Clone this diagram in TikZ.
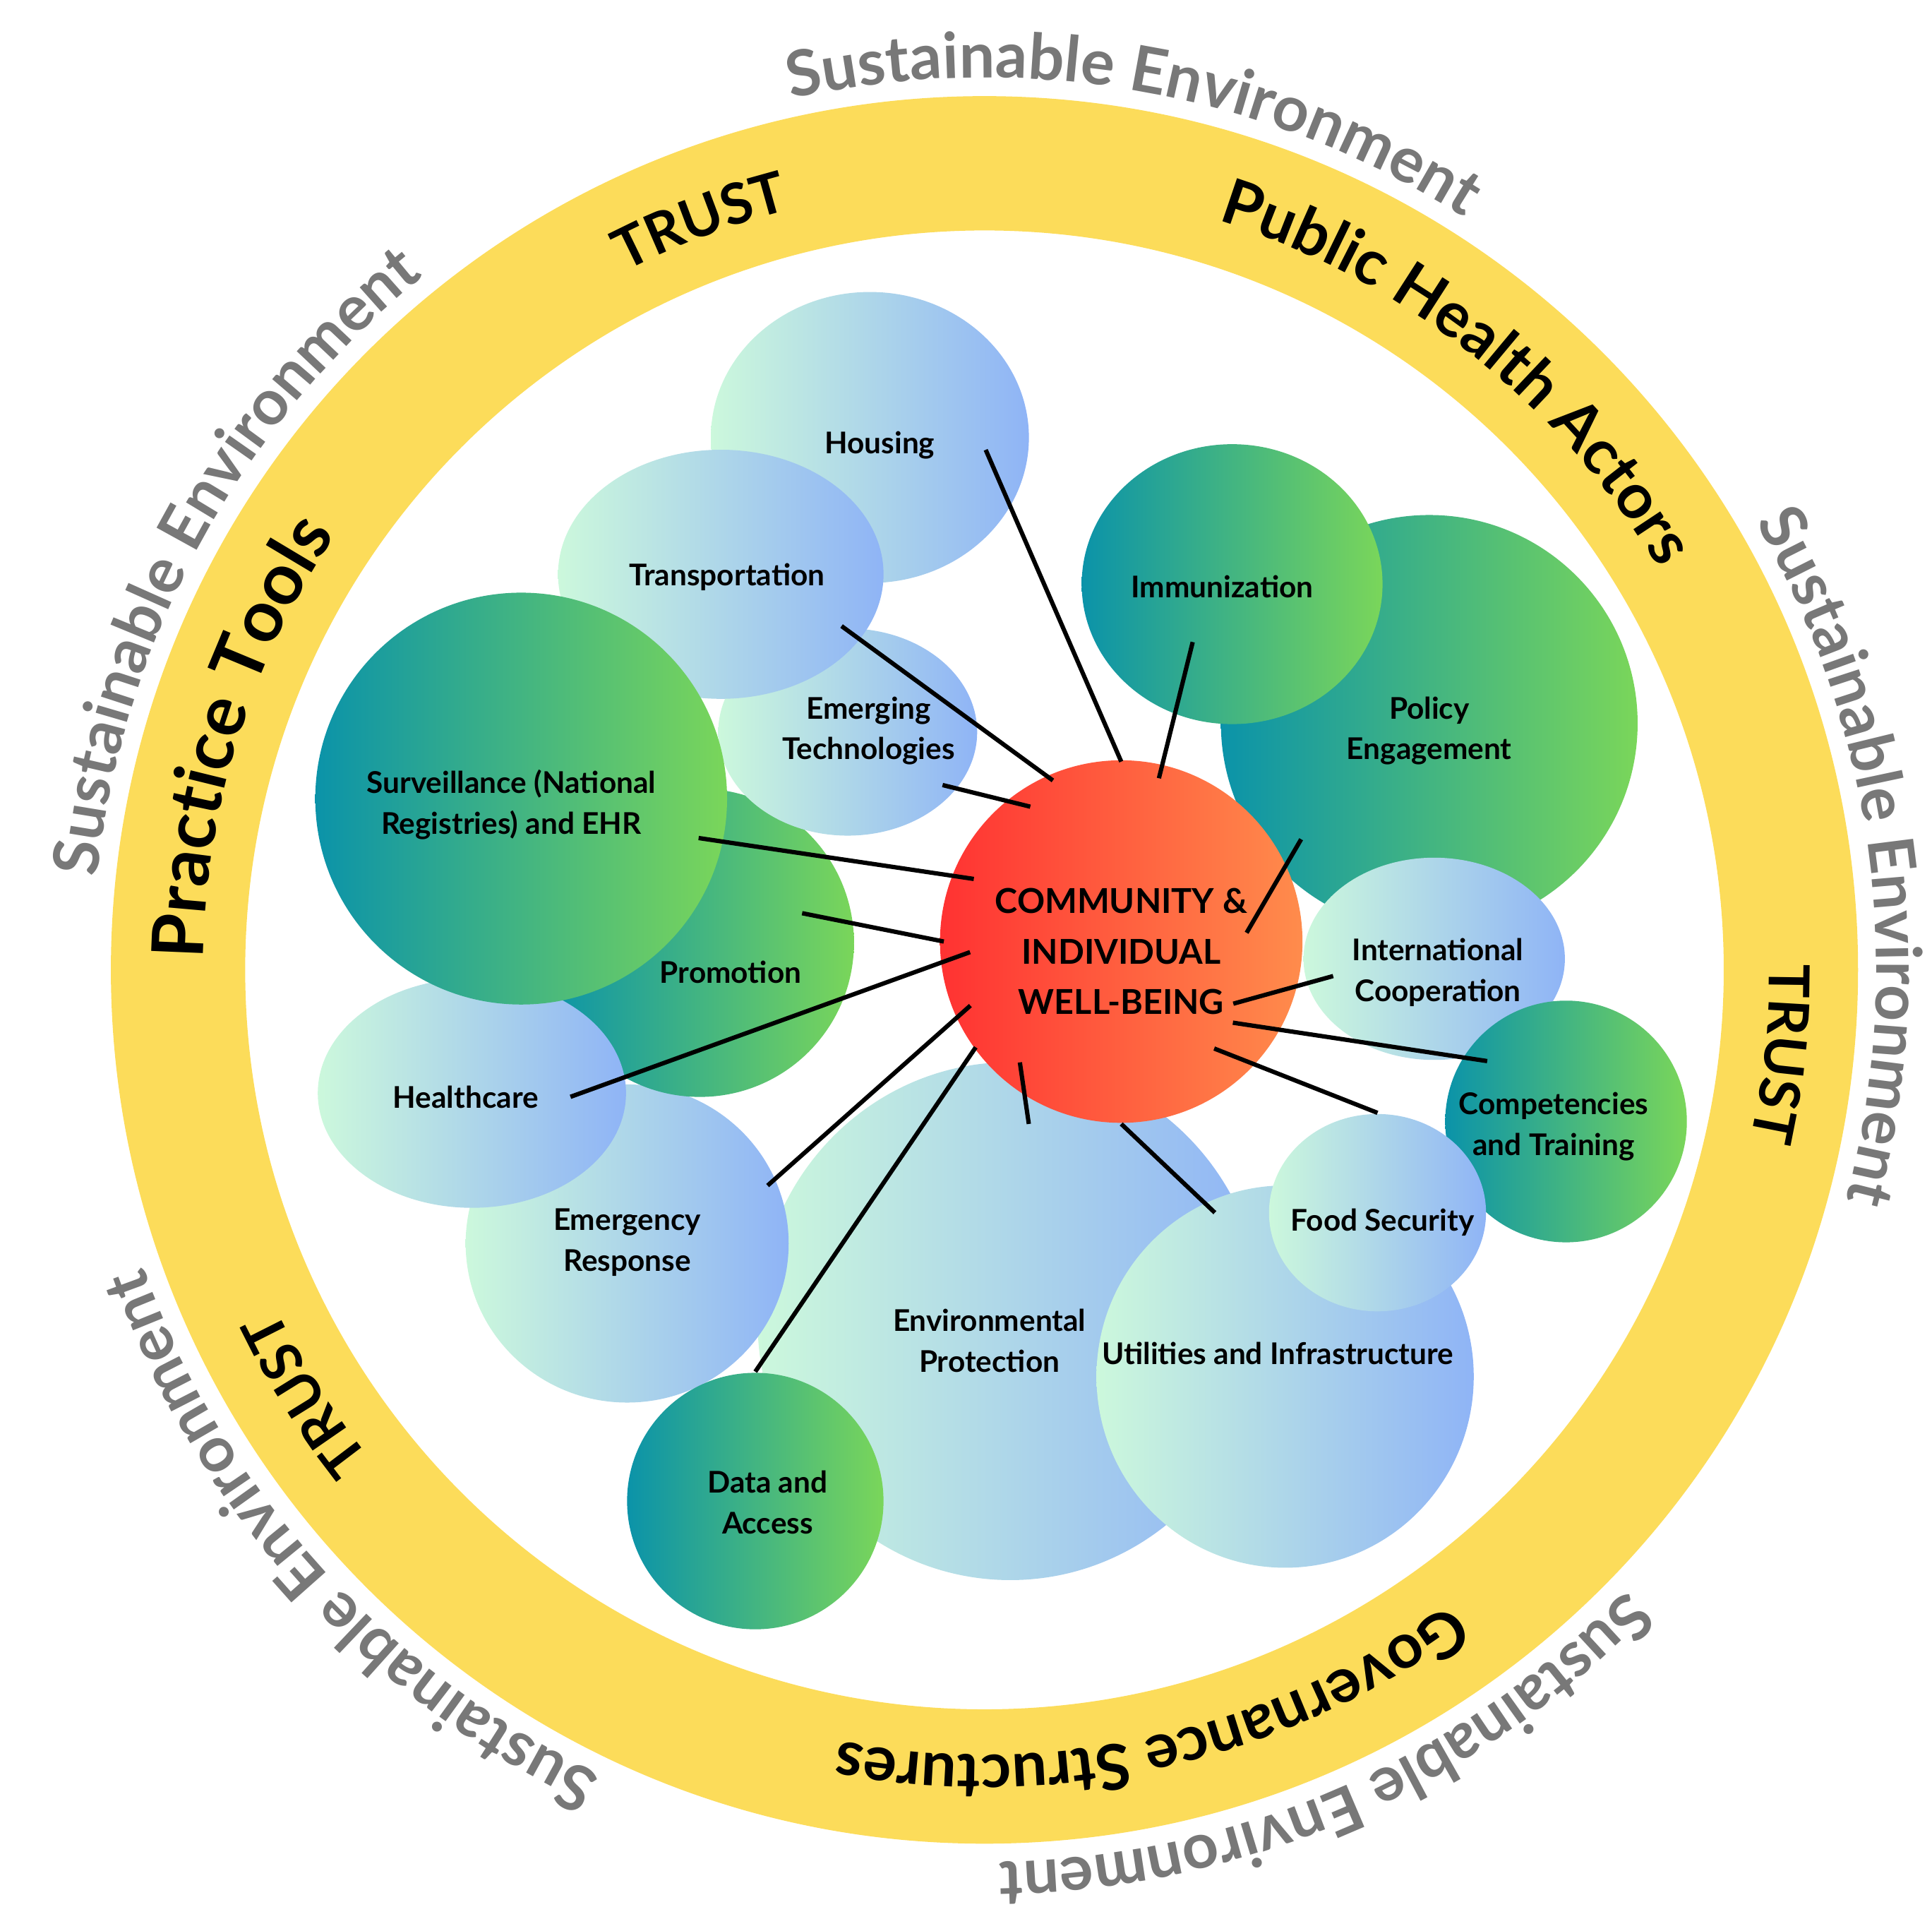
\documentclass[tikz,border=0pt]{standalone}
\usepackage{fontspec}
\setmainfont{Lato}
\usetikzlibrary{shapes.geometric,decorations.text,calc}

\definecolor{ringyellow}{HTML}{FCDC5A}
\definecolor{envgray}{HTML}{787878}
\definecolor{mint}{HTML}{CCF8DC}
\definecolor{skyblue}{HTML}{8FB4F6}
\definecolor{deepteal}{HTML}{0B93A9}
\definecolor{leafgreen}{HTML}{7AD65A}
\definecolor{wellred}{HTML}{FF3232}
\definecolor{wellorange}{HTML}{FF8C4C}

\tikzset{
  lightbub/.style={ellipse, inner sep=0pt, outer sep=0pt, left color=mint, right color=skyblue},
  darkbub/.style={ellipse, inner sep=0pt, outer sep=0pt, left color=deepteal, right color=leafgreen},
  lbl/.style={font=\bfseries\fontsize{6.9}{9.4}\selectfont, align=center, inner sep=0pt},
  ringtext/.style={decorate, decoration={text along path, text align=center,
      text={|\bfseries\fontsize{14.5}{14.5}\selectfont|#1}}},
  trusttext/.style={decorate, decoration={text along path, text align=center,
      text={|\bfseries\fontsize{13}{13}\selectfont|TRUST}}},
  envtext/.style={decorate, decoration={text along path, text align=center, text color=envgray,
      text={|\bfseries\fontsize{14.6}{14.6}\selectfont|Sustainable Environment}}}
}

\begin{document}
\begin{tikzpicture}[x=0.01cm, y=0.01cm]
  \useasboundingbox (-799,-770) rectangle (769,787);

  % ring and its words
  \fill[ringyellow, even odd rule] (0,0) circle (709) (0,0) circle (600);
  \foreach \m in {80,7.6,-66.5,-138,151.5}
    \path[envtext] ({\m+35}:724) arc[start angle={\m+35}, end angle={\m-35}, radius=724];
  \path[trusttext] (140.8:637) arc[start angle=140.8, end angle=80.8, radius=637];
  \path[trusttext] (24:637) arc[start angle=24, end angle=-36, radius=637];
  \path[trusttext] (-118:637) arc[start angle=-118, end angle=-178, radius=637];
  \path[ringtext={Public Health Actors}] (81.7:637) arc[start angle=81.7, end angle=21.7, radius=637];
  \path[ringtext={Governance Structures}] (-42.2:637) arc[start angle=-42.2, end angle=-112.2, radius=637];
  \path[decorate, decoration={text along path, text align=center,
      text={|\bfseries\fontsize{16.5}{16.5}\selectfont|Practice Tools}}]
    (192.7:634) arc[start angle=192.7, end angle=132.7, radius=634];

  % bubbles, back to front
  \node[lightbub, minimum width=2.58cm, minimum height=2.36cm] (housing) at (-93,432) {};
  \node[lightbub, minimum width=4.10cm, minimum height=4.20cm] (envprot) at (21,-285) {};
  \node[lightbub, minimum width=2.62cm, minimum height=2.58cm] (emresp) at (-290,-222) {};
  \node[darkbub, minimum width=2.50cm, minimum height=2.50cm] (promo) at (-231,22) {};
  \node[lightbub, minimum width=2.10cm, minimum height=1.68cm] (emtech) at (-111,193) {};
  \node[lightbub, minimum width=2.64cm, minimum height=2.02cm] (transp) at (-214,321) {};
  \node[lightbub, minimum width=2.50cm, minimum height=1.86cm] (health) at (-416,-100) {};
  \node[darkbub, minimum width=3.34cm, minimum height=3.34cm] (surv) at (-376,139) {};
  \node[darkbub, minimum width=2.08cm, minimum height=2.08cm] (data) at (-186,-431) {};
  \node[lightbub, minimum width=3.06cm, minimum height=3.10cm] (util) at (244,-330) {};
  \node[darkbub, minimum width=3.38cm, minimum height=3.38cm] (policy) at (361,200) {};
  \node[lightbub, minimum width=2.12cm, minimum height=1.64cm] (intl) at (365,9) {};
  \node[darkbub, minimum width=1.96cm, minimum height=1.96cm] (comp) at (472,-123) {};
  \node[lightbub, minimum width=1.76cm, minimum height=1.60cm] (food) at (319,-197) {};
  \node[darkbub, minimum width=2.44cm, minimum height=2.27cm] (immun) at (201,313) {};
  \node[circle, inner sep=0pt, minimum size=2.94cm, left color=wellred, right color=wellorange] (well) at (111,23) {};

  % labels
  \node[lbl] (housing-l) at (-85,426) {Housing};
  \node[lbl] (transp-l) at (-209,319) {Transportation};
  \node[lbl] (emtech-l) at (-94,194) {Emerging\\Technologies};
  \node[lbl] (surv-l) at (-384,134) {Surveillance (National\\Registries) and EHR};
  \node[lbl] (promo-l) at (-206,-2) {Promotion};
  \node[lbl] (health-l) at (-421,-103) {Healthcare};
  \node[lbl] (emresp-l) at (-290,-221) {Emergency\\Response};
  \node[lbl] (envprot-l) at (4,-301) {Environmental\\Protection};
  \node[lbl] (data-l) at (-176,-432) {Data and\\Access};
  \node[lbl] (util-l) at (238,-311) {Utilities and Infrastructure};
  \node[lbl] (food-l) at (323,-205) {Food Security};
  \node[lbl] (comp-l) at (462,-127) {Competencies\\and Training};
  \node[lbl] (intl-l) at (368,-2) {International\\Cooperation};
  \node[lbl] (policy-l) at (361,194) {Policy\\Engagement};
  \node[lbl] (immun-l) at (193,311) {Immunization};
  \node[lbl, font=\bfseries\fontsize{7.9}{11.7}\selectfont] (well-l) at (111,15) {COMMUNITY \&\\INDIVIDUAL\\WELL-BEING};

  % connector ends inside the bubbles
  \coordinate (housing-c) at (1,422);
  \coordinate (immun-c) at (169,266);
  \coordinate (transp-c) at (-116,279);
  \coordinate (emtech-c) at (-34,150);
  \coordinate (surv-c) at (-232,107);
  \coordinate (promo-c) at (-148,46);
  \coordinate (health-c) at (-336,-103);
  \coordinate (emresp-c) at (-176,-175);
  \coordinate (data-c) at (-186,-326);
  \coordinate (envprot-c) at (36,-125);
  \coordinate (util-c) at (187,-197);
  \coordinate (food-c) at (319,-116);
  \coordinate (comp-c) at (408,-74);
  \coordinate (intl-c) at (283,-5);
  \coordinate (policy-c) at (257,106);

  \begin{scope}[line width=1pt]
    \draw (housing-c) -- ($(well)+(90:146)$);
    \draw (immun-c) -- ($(well)+(77:136)$);
    \draw (transp-c) -- ($(well)+(113:142)$);
    \draw (emtech-c) -- ($(well)+(124:132)$);
    \draw (surv-c) -- ($(well)+(157:130)$);
    \draw (promo-c) -- ($(well)+(180:144)$);
    \draw (health-c) -- ($(well)+(184:123)$);
    \draw (emresp-c) -- ($(well)+(203:133)$);
    \draw (data-c) -- ($(well)+(216:146)$);
    \draw (envprot-c) -- ($(well)+(230:128)$);
    \draw (util-c) -- ($(well)+(270:148)$);
    \draw (food-c) -- ($(well)+(311:115)$);
    \draw (comp-c) -- ($(well)+(324:112)$);
    \draw (intl-c) -- ($(well)+(331:104)$);
    \draw (policy-c) -- ($(well)+(4:102)$);
  \end{scope}
\end{tikzpicture}
\end{document}
